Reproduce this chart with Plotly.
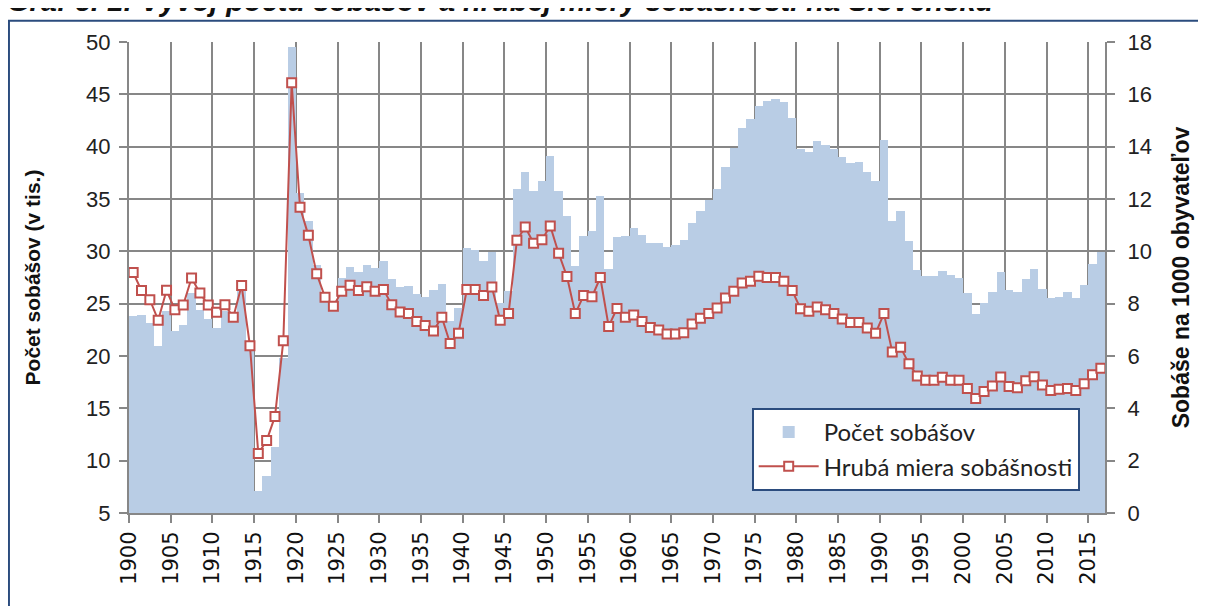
import plotly.graph_objects as go

# --- data ---
years = list(range(1900, 2017))

marriages = [
    23.8, 23.9, 23.2, 21.0, 24.3, 22.4, 23.0, 26.0, 24.4, 23.5,   # 1900-1909
    22.7, 24.3, 23.8, 27.3, 20.8, 7.1, 8.5, 11.3, 19.8, 49.5,     # 1910-1919
    35.6, 32.9, 28.7, 26.1, 25.2, 27.5, 28.5, 28.0, 28.7, 28.4,   # 1920-1929
    29.1, 27.4, 26.6, 26.7, 25.9, 25.6, 26.3, 26.9, 23.3, 24.6,   # 1930-1939
    30.3, 30.1, 29.1, 29.9, 25.1, 26.2, 36.0, 37.6, 35.8, 36.7,   # 1940-1949
    39.1, 35.8, 33.4, 28.6, 31.5, 31.9, 35.3, 28.3, 31.4, 31.5,   # 1950-1959
    32.2, 31.6, 30.8, 30.8, 30.4, 30.6, 31.1, 32.7, 33.9, 34.9,   # 1960-1969
    36.0, 38.1, 39.9, 41.8, 42.6, 43.9, 44.4, 44.6, 44.3, 42.7,   # 1970-1979
    39.8, 39.5, 40.5, 40.2, 39.8, 39.0, 38.4, 38.5, 37.6, 36.7,   # 1980-1989
    40.6, 32.9, 33.9, 31.0, 28.2, 27.6, 27.6, 28.1, 27.7, 27.5,   # 1990-1999
    26.0, 24.0, 25.1, 26.1, 28.0, 26.3, 26.1, 27.4, 28.3, 26.4,   # 2000-2009
    25.5, 25.6, 26.1, 25.5, 26.8, 28.8, 29.9,                     # 2010-2016
]

rate = [
    9.19, 8.50, 8.15, 7.37, 8.51, 7.77, 7.95, 8.98, 8.41, 7.95,
    7.67, 7.96, 7.48, 8.69, 6.39, 2.27, 2.77, 3.69, 6.58, 16.44,
    11.68, 10.61, 9.14, 8.25, 7.90, 8.47, 8.70, 8.50, 8.65, 8.47,
    8.54, 7.96, 7.68, 7.62, 7.32, 7.17, 6.96, 7.48, 6.48, 6.87,
    8.54, 8.54, 8.31, 8.64, 7.37, 7.62, 10.42, 10.93, 10.31, 10.44,
    10.97, 9.93, 9.04, 7.62, 8.31, 8.26, 9.00, 7.13, 7.82, 7.48,
    7.57, 7.32, 7.09, 6.99, 6.84, 6.84, 6.89, 7.22, 7.44, 7.62,
    7.83, 8.22, 8.47, 8.79, 8.86, 9.05, 9.00, 9.00, 8.86, 8.50,
    7.81, 7.71, 7.87, 7.77, 7.62, 7.41, 7.28, 7.28, 7.07, 6.87,
    7.62, 6.15, 6.33, 5.70, 5.24, 5.07, 5.07, 5.19, 5.07, 5.07,
    4.76, 4.38, 4.64, 4.85, 5.20, 4.83, 4.79, 5.05, 5.21, 4.89,
    4.68, 4.73, 4.76, 4.68, 4.94, 5.28, 5.53,
]

year_ticks = list(range(1900, 2016, 5))

BAR = "#B9CDE5"
RED = "#C0504D"
GRID = "#878787"
NAVY = "#2B4C7E"

# categories sit between tick marks, so centre each year half a step right
xc = [y + 0.5 for y in years]

fig = go.Figure()

fig.add_trace(go.Bar(
    x=xc, y=marriages, width=1,
    name="Počet sobášov",
    marker=dict(color=BAR, line=dict(width=0)),
    yaxis="y",
))

fig.add_trace(go.Scatter(
    x=xc, y=rate,
    mode="lines+markers",
    name="Hrubá miera sobášnosti",
    line=dict(color=RED, width=2),
    marker=dict(symbol="square", size=9, color="white",
                line=dict(color=RED, width=2)),
    yaxis="y2",
))

tick_font = dict(family="Liberation Sans, Arial, sans-serif", size=22, color="#222")

# the page body adds an 8px offset, so the figure is 8px smaller than the window
fig.update_layout(
    width=1198, height=598,
    paper_bgcolor="white", plot_bgcolor="white",
    margin=dict(l=121, r=101, t=34, b=93),
    bargap=0,
    showlegend=True,
    xaxis=dict(
        range=[1900, 2017],
        tickvals=year_ticks,
        ticktext=[str(y) for y in year_ticks],
        tickangle=-90,
        tickfont=dict(family="DejaVu Sans, sans-serif", size=21, color="#111"),
        showgrid=True, gridcolor=GRID, gridwidth=2,
        ticks="outside", ticklen=8, tickcolor=GRID, tickwidth=2,
        showline=True, linecolor=GRID, linewidth=2,
        zeroline=False,
    ),
    yaxis=dict(
        range=[5, 50], dtick=5,
        tickfont=tick_font,
        ticklabelstandoff=4,
        showgrid=True, gridcolor=GRID, gridwidth=2,
        ticks="outside", ticklen=8, tickcolor=GRID, tickwidth=2,
        showline=True, linecolor=GRID, linewidth=2,
        zeroline=False,
        title=dict(text="<b>Počet sobášov (v tis.)</b>",
                   font=dict(family="Liberation Sans, Arial, sans-serif", size=21, color="#111"),
                   standoff=40),
    ),
    yaxis2=dict(
        range=[0, 18], dtick=2,
        overlaying="y", side="right",
        tickfont=tick_font,
        ticklabelstandoff=8,
        showgrid=False,
        ticks="outside", ticklen=8, tickcolor=GRID, tickwidth=2,
        showline=True, linecolor=GRID, linewidth=2,
        zeroline=False,
        title=dict(text="<b>Sobáše na 1000 obyvateľov</b>",
                   font=dict(family="Liberation Sans, Arial, sans-serif", size=23, color="#111"),
                   standoff=22),
    ),
    legend=dict(
        x=0.638, y=0.223, xanchor="left", yanchor="top",
        bgcolor="white", bordercolor=NAVY, borderwidth=2,
        font=dict(family="Lato, Noto Sans, sans-serif", size=24, color="#222"),
        itemwidth=60, tracegroupgap=12,
        traceorder="normal",
    ),
)

# chart title, mostly cut off at the top of the page as in the source
fig.add_annotation(
    text="Graf č. 1: Vývoj počtu sobášov a hrubej miery sobášnosti na Slovensku",
    xref="paper", yref="paper", x=-0.127, y=1.049,
    xanchor="left", yanchor="bottom", showarrow=False,
    font=dict(family="Liberation Sans, Arial, sans-serif", size=29, color="#111",
              weight="bold", style="italic"),
)

# outer frame of the chart object
fig.add_shape(
    type="rect", xref="paper", yref="paper",
    x0=-0.123, x1=1.12, y0=-0.21, y1=1.045,
    line=dict(color=NAVY, width=2), fillcolor="rgba(0,0,0,0)", layer="below",
)

fig.write_html("out.html")
